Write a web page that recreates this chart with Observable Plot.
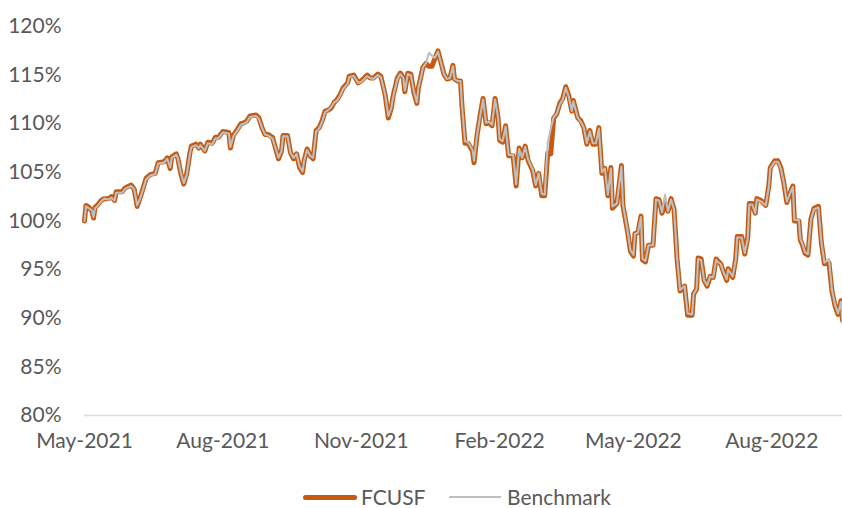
<!DOCTYPE html>
<html>
<head>
<meta charset="utf-8">
<script src="https://cdn.jsdelivr.net/npm/d3@7"></script>
<script src="https://cdn.jsdelivr.net/npm/@observablehq/plot@0.6"></script>
<style>
  html, body { margin: 0; padding: 0; background: #ffffff; }
  #wrap { width: 842px; height: 508px; position: relative; font-family: Lato, "Open Sans", sans-serif; color: #595959; }
  #legend { position: absolute; left: 0; top: 470px; width: 842px; height: 38px; font-size: 21px; }
  .sw { position: absolute; }
  .lt { position: absolute; line-height: 24px; top: 15px; }
</style>
</head>
<body>
<div id="wrap">
  <div id="chart"></div>
  <div id="legend">
    <div class="sw" style="left:303px; top:25px; width:54px; height:5px; background:#C55A11; border-radius:2.5px;"></div>
    <div class="lt" style="left:361px;">FCUSF</div>
    <div class="sw" style="left:449px; top:26px; width:52px; height:2px; background:#BFBFBF;"></div>
    <div class="lt" style="left:507px;">Benchmark</div>
  </div>
</div>
<script>
const dates = [
"2021-05-01","2021-05-02","2021-05-04","2021-05-06","2021-05-07","2021-05-08","2021-05-10","2021-05-12","2021-05-14","2021-05-17",
"2021-05-19","2021-05-21","2021-05-22","2021-05-26","2021-05-28","2021-06-01","2021-06-03","2021-06-04","2021-06-05","2021-06-07",
"2021-06-09","2021-06-11","2021-06-14","2021-06-17","2021-06-19","2021-06-23","2021-06-25","2021-06-27","2021-06-28","2021-07-01",
"2021-07-02","2021-07-04","2021-07-06","2021-07-08","2021-07-10","2021-07-11","2021-07-14","2021-07-16","2021-07-17","2021-07-20",
"2021-07-22","2021-07-25","2021-07-27","2021-07-29","2021-08-01","2021-08-05","2021-08-06","2021-08-08","2021-08-11","2021-08-13",
"2021-08-15","2021-08-17","2021-08-19","2021-08-23","2021-08-25","2021-08-27","2021-08-29","2021-08-31","2021-09-03","2021-09-05",
"2021-09-07","2021-09-09","2021-09-10","2021-09-13","2021-09-15","2021-09-17","2021-09-19","2021-09-21","2021-09-23","2021-09-24",
"2021-09-26","2021-09-28","2021-09-30","2021-10-02","2021-10-04","2021-10-06","2021-10-08","2021-10-10","2021-10-12","2021-10-14",
"2021-10-16","2021-10-18","2021-10-20","2021-10-23","2021-10-24","2021-10-27","2021-10-30","2021-11-01","2021-11-03","2021-11-05",
"2021-11-07","2021-11-09","2021-11-12","2021-11-14","2021-11-16","2021-11-17","2021-11-19","2021-11-21","2021-11-22","2021-11-25",
"2021-11-27","2021-11-29","2021-11-30","2021-12-02","2021-12-04","2021-12-06","2021-12-08","2021-12-09","2021-12-11","2021-12-12",
"2021-12-14","2021-12-16","2021-12-18","2021-12-20","2021-12-22","2021-12-24","2021-12-26","2021-12-28","2021-12-30","2022-01-01",
"2022-01-02","2022-01-04","2022-01-06","2022-01-07","2022-01-09","2022-01-11","2022-01-14","2022-01-15","2022-01-17","2022-01-19",
"2022-01-21","2022-01-23","2022-01-25","2022-01-27","2022-01-29","2022-01-31","2022-02-01","2022-02-03","2022-02-05","2022-02-07",
"2022-02-10","2022-02-12","2022-02-14","2022-02-16","2022-02-18","2022-02-20","2022-02-23","2022-02-25","2022-02-27","2022-03-01",
"2022-03-03","2022-03-05","2022-03-07","2022-03-09","2022-03-11","2022-03-13","2022-03-15","2022-03-17","2022-03-19","2022-03-21",
"2022-03-22","2022-03-25","2022-03-27","2022-03-29","2022-03-31","2022-04-02","2022-04-04","2022-04-06","2022-04-08","2022-04-10",
"2022-04-12","2022-04-14","2022-04-16","2022-04-17","2022-04-20","2022-04-23","2022-04-24","2022-04-27","2022-04-29","2022-05-01",
"2022-05-02","2022-05-04","2022-05-06","2022-05-07","2022-05-09","2022-05-11","2022-05-14","2022-05-16","2022-05-18","2022-05-20",
"2022-05-22","2022-05-24","2022-05-26","2022-05-28","2022-05-30","2022-06-01","2022-06-04","2022-06-06","2022-06-09","2022-06-10",
"2022-06-12","2022-06-13","2022-06-15","2022-06-17","2022-06-19","2022-06-21","2022-06-23","2022-06-25","2022-06-26","2022-06-28",
"2022-06-30","2022-07-02","2022-07-03","2022-07-06","2022-07-08","2022-07-09","2022-07-12","2022-07-14","2022-07-16","2022-07-17",
"2022-07-19","2022-07-21","2022-07-22","2022-07-25","2022-07-28","2022-07-30","2022-07-31","2022-08-03","2022-08-05","2022-08-07",
"2022-08-09","2022-08-11","2022-08-13","2022-08-15","2022-08-16","2022-08-19","2022-08-20","2022-08-21","2022-08-23","2022-08-25",
"2022-08-27","2022-08-29","2022-09-01","2022-09-03","2022-09-05","2022-09-08","2022-09-10","2022-09-12","2022-09-14","2022-09-16",
"2022-09-17"
];

const fcusf = [
100.0,101.6,101.4,101.0,100.3,101.4,101.7,102.1,102.3,102.3,
102.5,102.1,103.0,103.0,103.4,103.7,103.3,102.4,101.5,102.4,
103.4,104.4,104.8,104.9,106.0,106.1,106.5,105.4,106.6,106.9,
106.5,104.9,103.8,104.9,106.9,107.7,107.9,107.5,107.9,107.2,
108.1,108.0,108.6,108.6,109.2,109.1,107.5,108.8,109.5,110.0,
110.1,110.3,110.8,110.9,110.6,109.6,108.9,108.9,108.6,107.5,
106.4,107.2,108.8,108.8,107.0,106.4,106.9,105.5,105.0,106.2,
107.4,106.7,106.4,109.3,109.6,110.3,111.3,111.4,111.6,112.2,
112.5,113.0,113.7,114.2,114.9,115.0,114.2,114.4,114.7,115.0,
114.7,114.7,115.1,114.9,113.6,112.9,110.6,111.6,112.7,114.7,
115.2,114.7,113.3,115.2,115.1,113.2,112.1,113.7,115.1,115.8,
116.2,115.9,115.9,116.7,117.5,116.3,115.1,114.6,114.7,116.0,
114.6,114.4,114.4,111.8,108.0,108.0,107.2,106.0,108.8,110.8,
112.6,110.0,110.1,109.8,112.6,110.6,108.3,108.1,109.8,106.7,
106.7,103.6,107.5,106.5,107.7,106.2,105.2,103.6,104.9,102.6,
102.6,107.0,106.9,110.6,111.0,112.1,112.6,113.8,112.9,111.3,
112.4,110.6,110.3,109.6,107.9,109.3,107.9,107.9,109.6,104.9,
105.4,102.6,105.5,101.3,101.8,105.7,101.6,99.0,96.9,96.4,
98.7,98.8,100.5,96.0,95.8,97.5,97.5,102.3,102.2,100.8,
101.8,101.0,102.3,101.2,96.1,92.8,93.3,90.3,90.3,92.5,
93.0,96.2,96.1,93.9,93.3,94.3,94.2,96.1,95.9,95.6,
94.7,93.9,95.1,94.2,96.1,98.4,98.4,96.6,98.3,101.8,
101.8,100.8,102.3,102.1,101.6,103.6,105.5,106.2,106.2,105.5,
103.9,101.9,102.8,103.6,100.0,100.0,98.0,97.7,96.7,96.5,
100.2,101.3,101.5,97.7,95.6,95.7,92.8,91.3,90.4,91.8,
89.8
];

const benchmark = [
100.0,101.5,101.3,101.1,100.4,101.3,101.6,102.0,102.3,102.2,
102.4,102.1,102.9,102.9,103.3,103.6,103.3,102.5,101.6,102.3,
103.3,104.3,104.7,104.8,105.9,106.0,106.4,105.5,106.5,106.8,
106.5,105.0,103.9,104.8,106.8,107.6,107.8,107.5,107.8,107.2,
108.0,107.9,108.5,108.5,109.1,109.0,107.6,108.7,109.4,109.9,
110.0,110.2,110.7,110.8,110.5,109.6,108.9,108.8,108.5,107.5,
106.5,107.2,108.7,108.7,107.0,106.5,106.9,105.6,105.1,106.2,
107.3,106.7,106.5,109.2,109.5,110.2,111.2,111.4,111.7,112.2,
112.4,112.9,113.6,114.1,114.8,114.9,114.2,114.3,114.6,114.9,
114.7,114.6,115.0,114.8,113.6,112.9,110.8,111.6,112.6,114.6,
115.1,114.7,113.4,115.1,115.0,113.3,112.2,113.7,115.0,115.8,
116.2,117.3,117.0,116.8,117.4,116.3,115.1,114.6,114.7,115.9,
114.6,114.4,114.4,111.9,108.2,108.1,107.3,106.2,108.8,110.7,
112.5,110.1,110.2,109.9,112.5,110.6,108.4,108.2,109.7,106.8,
106.8,103.8,107.4,106.5,107.6,106.3,105.3,103.7,104.9,102.8,
102.7,108.0,109.5,110.7,111.0,112.0,112.5,113.7,112.8,111.3,
112.3,110.6,110.2,109.6,108.0,109.2,108.0,108.0,109.5,105.0,
105.4,102.7,105.4,101.5,101.8,105.6,101.7,99.1,97.0,96.5,
98.7,98.8,100.4,96.1,95.9,97.5,97.5,102.2,102.1,100.9,
102.7,101.0,102.2,101.2,96.2,92.9,93.3,90.5,90.4,92.5,
93.0,96.1,96.0,93.9,93.4,94.3,94.2,96.0,95.8,95.6,
94.7,94.0,95.0,94.3,96.0,98.3,98.3,96.7,98.2,101.7,
101.7,100.8,102.2,102.0,101.6,103.5,105.4,106.1,106.1,105.4,
103.9,102.0,102.8,103.5,100.1,100.1,98.1,97.8,96.8,96.6,
100.1,101.2,101.4,97.8,95.7,96.1,92.9,91.4,90.5,91.7,
89.4
];

const xTicks = ["2021-05-01","2021-08-01","2021-11-01","2022-02-01","2022-05-01","2022-08-01"];
const yTicks = [80, 85, 90, 95, 100, 105, 110, 115, 120];
const xDomain = ["2021-05-01", "2022-09-17"];

const data = dates.map((d, i) => ({date: new Date(d), fcusf: fcusf[i], benchmark: benchmark[i]}));

const chart = Plot.plot({
  width: 842,
  height: 470,
  marginLeft: 84,
  marginRight: 0,
  marginTop: 26,
  marginBottom: 55,
  style: {fontFamily: "Lato, 'Open Sans', sans-serif", fontSize: "21px", color: "#595959", background: "#ffffff"},
  x: {type: "utc", domain: xDomain.map(d => new Date(d)), ticks: xTicks.map(d => new Date(d)), tickFormat: d3.utcFormat("%b-%Y"), tickSize: 0, tickPadding: 18, label: null},
  y: {domain: [80, 120], ticks: yTicks, tickFormat: d => d + "%", tickSize: 0, tickPadding: 23, label: null},
  marks: [
    Plot.ruleY([80], {stroke: "#D9D9D9", strokeWidth: 1.5}),
    Plot.lineY(data, {x: "date", y: "fcusf", stroke: "#C55A11", strokeWidth: 5, strokeLinejoin: "round", strokeLinecap: "round"}),
    Plot.lineY(data, {x: "date", y: "benchmark", stroke: "#BFBFBF", strokeWidth: 2.1, strokeLinejoin: "round"})
  ]
});
document.getElementById("chart").appendChild(chart);
</script>
</body>
</html>
